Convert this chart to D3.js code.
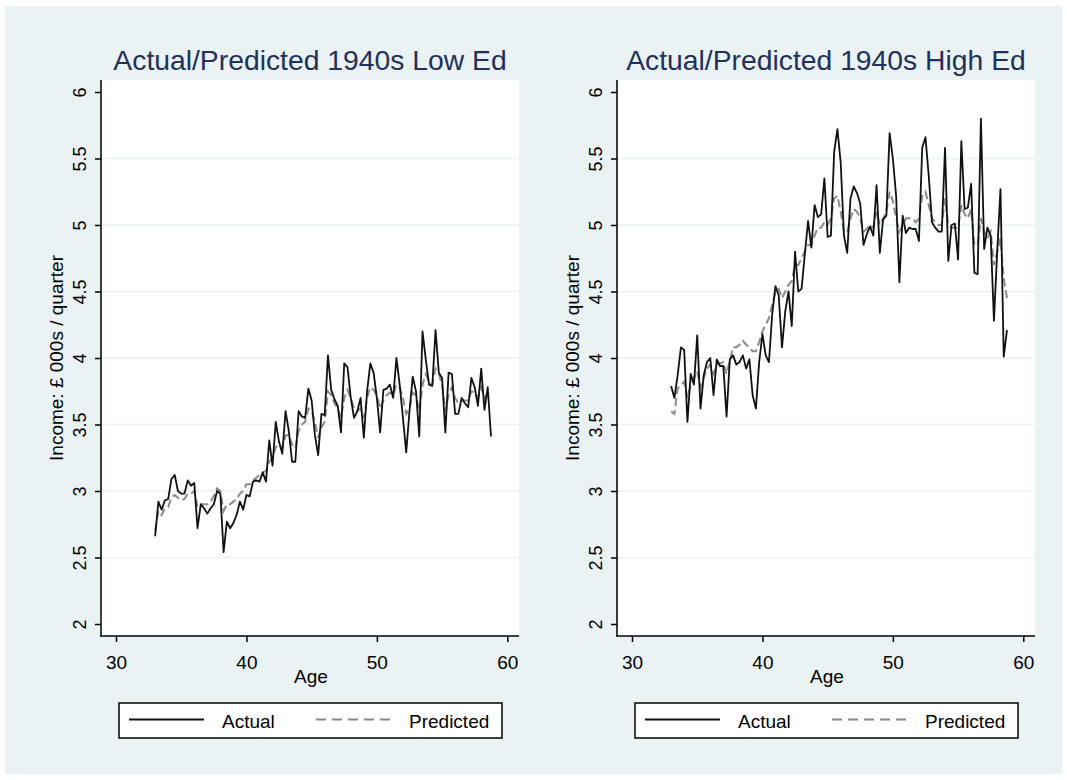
<!DOCTYPE html>
<html>
<head>
<meta charset="utf-8">
<script src="https://cdn.jsdelivr.net/npm/d3@7"></script>
<style>
  body { margin: 0; background: #fff; }
  svg text { font-family: "Liberation Sans", Arial, sans-serif; }
</style>
</head>
<body>
<svg id="chart" width="1067" height="780"></svg>
<script>
// quarterly ages 33.00 .. 58.75
var ages = d3.range(104).map(function (i) { return 33 + i * 0.25; });

var lowActual = [
  2.66, 2.92, 2.86, 2.93, 2.94, 3.09, 3.12, 3.0, 2.98, 2.98,
  3.08, 3.04, 3.06, 2.72, 2.9, 2.87, 2.83, 2.87, 2.9, 3.0,
  2.98, 2.54, 2.77, 2.72, 2.76, 2.82, 2.92, 2.86, 2.97, 2.96,
  3.07, 3.08, 3.07, 3.14, 3.07, 3.38, 3.19, 3.52, 3.37, 3.28,
  3.6, 3.45, 3.22, 3.22, 3.6, 3.56, 3.55, 3.77, 3.68, 3.42,
  3.27, 3.58, 3.57, 4.02, 3.76, 3.69, 3.64, 3.44, 3.96, 3.93,
  3.7, 3.55, 3.6, 3.7, 3.4, 3.75, 3.96, 3.89, 3.7, 3.44,
  3.76, 3.77, 3.8, 3.7, 4.0, 3.8, 3.55, 3.29, 3.6, 3.86,
  3.75, 3.41, 4.2, 3.99, 3.8, 3.79, 4.21, 3.89, 3.85, 3.44,
  3.89, 3.88, 3.58, 3.58, 3.7, 3.66, 3.63, 3.85, 3.78, 3.64,
  3.92, 3.61, 3.78, 3.41
];
var lowPredicted = [
  2.7, 2.85, 2.82, 2.87, 2.88, 2.95, 2.97, 2.95, 2.93, 2.94,
  2.98, 2.98, 3.0, 2.88, 2.9, 2.9, 2.9, 2.92, 2.96, 3.02,
  3.0, 2.85, 2.9, 2.9, 2.92, 2.94, 2.98, 3.0, 3.05, 3.05,
  3.08, 3.1, 3.12, 3.14, 3.15, 3.22, 3.25, 3.33, 3.35, 3.32,
  3.42, 3.42, 3.35, 3.32, 3.45, 3.5, 3.52, 3.62, 3.6, 3.52,
  3.4, 3.48, 3.52, 3.75, 3.72, 3.66, 3.62, 3.55, 3.7, 3.76,
  3.7, 3.62, 3.6, 3.62, 3.55, 3.7, 3.78, 3.76, 3.72, 3.62,
  3.68, 3.72, 3.74, 3.72, 3.8, 3.78, 3.7, 3.58, 3.62, 3.74,
  3.72, 3.6, 3.8, 3.88, 3.82, 3.8, 3.92, 3.88, 3.8, 3.6,
  3.72, 3.78, 3.7, 3.66, 3.68, 3.68, 3.68, 3.75, 3.74, 3.7,
  3.78, 3.7, 3.74, 3.72
];
var highActual = [
  3.79, 3.70, 3.87, 4.08, 4.06, 3.52, 3.88, 3.80, 4.17, 3.62,
  3.87, 3.97, 4.0, 3.72, 3.99, 3.94, 3.94, 3.56, 3.99, 4.02,
  3.95, 3.97, 4.02, 3.92, 3.99, 3.72, 3.62, 3.97, 4.18, 4.02,
  3.97, 4.33, 4.54, 4.47, 4.08, 4.35, 4.5, 4.24, 4.8, 4.5,
  4.52, 4.78, 5.03, 4.83, 5.15, 5.06, 5.08, 5.35, 4.91, 4.92,
  5.55, 5.72, 5.47, 4.92, 4.79, 5.2, 5.29, 5.24, 5.16, 4.85,
  4.93, 4.99, 4.92, 5.3, 4.79, 5.04, 5.07, 5.69, 5.5, 5.22,
  4.57, 5.07, 4.94, 4.98, 4.97, 4.97, 4.88, 5.58, 5.66, 5.37,
  5.02, 4.98, 4.95, 4.95, 5.58, 4.73, 5.0, 5.01, 4.74, 5.63,
  5.12, 5.13, 5.31, 4.64, 4.63, 5.8, 4.82, 4.98, 4.92, 4.28,
  4.8, 5.27, 4.01, 4.21
];
var highPredicted = [
  3.6, 3.58, 3.77, 3.8, 3.82, 3.7, 3.8, 3.85, 3.9, 3.78,
  3.85, 3.92, 3.95, 3.88, 3.95, 3.96, 3.97, 3.88, 3.98, 4.08,
  4.08, 4.1, 4.13, 4.1, 4.08, 4.05, 4.05, 4.12, 4.2, 4.25,
  4.3, 4.4, 4.5, 4.52, 4.45, 4.5, 4.55, 4.58, 4.7, 4.7,
  4.75, 4.8, 4.85, 4.85, 4.92, 4.98, 4.98, 5.02, 5.0, 5.05,
  5.2, 5.22, 5.1, 4.95, 4.95, 5.05, 5.12, 5.1, 5.05, 4.95,
  4.97, 5.0, 4.98, 5.1, 5.0, 5.05, 5.1, 5.25, 5.18, 5.05,
  4.95, 5.0, 5.05, 5.05, 5.05, 5.02, 5.05, 5.22, 5.25, 5.15,
  5.05, 5.02, 5.0, 5.0, 5.2, 5.0, 4.98, 4.98, 4.98, 5.15,
  5.08, 5.05, 5.12, 4.85, 4.85, 5.05, 4.95, 4.9, 4.95, 4.7,
  4.8, 4.9, 4.6, 4.45
];

var yTicks = [2, 2.5, 3, 3.5, 4, 4.5, 5, 5.5, 6];
var xTicks = [30, 40, 50, 60];
var titles = ["Actual/Predicted 1940s Low Ed", "Actual/Predicted 1940s High Ed"];
var legendLabels = ["Actual", "Predicted"];

var svg = d3.select("#chart");

// graph region background
svg.append("rect")
  .attr("x", 5).attr("y", 6)
  .attr("width", 1057).attr("height", 768)
  .attr("fill", "#eaf2f3");

drawPanel(0, titles[0], lowActual, lowPredicted);
drawPanel(516, titles[1], highActual, highPredicted);

function drawPanel(dx, title, actual, predicted) {
  var g = svg.append("g").attr("transform", "translate(" + dx + ",0)");
  var left = 101, right = 519, top = 80, bottom = 636;

  var x = d3.scaleLinear().domain([30, 60]).range([116, 507.3]);
  var y = d3.scaleLinear().domain([2, 6]).range([624, 92]);

  // plot region
  g.append("rect")
    .attr("x", left).attr("y", top)
    .attr("width", right - left).attr("height", bottom - top)
    .attr("fill", "#fff");

  // grid lines (Stata leaves out min and max)
  g.append("g")
    .selectAll("line")
    .data(yTicks.slice(1, -1))
    .join("line")
    .attr("x1", left).attr("x2", right)
    .attr("y1", function (d) { return y(d); })
    .attr("y2", function (d) { return y(d); })
    .attr("stroke", "#eaf2f3")
    .attr("stroke-width", 1.5);

  // title
  g.append("text")
    .attr("x", (left + right) / 2)
    .attr("y", 70)
    .attr("text-anchor", "middle")
    .attr("font-size", "28.3px")
    .attr("fill", "#22305b")
    .text(title);

  // y axis
  var yAxis = g.append("g")
    .attr("transform", "translate(" + left + ",0)")
    .call(d3.axisLeft(y).tickValues(yTicks).tickSize(6).tickSizeOuter(0).tickFormat(d3.format("")));
  yAxis.select(".domain").remove();
  yAxis.selectAll(".tick line").attr("stroke", "#000").attr("stroke-width", 1.5);
  yAxis.selectAll(".tick text")
    .attr("x", null).attr("dy", null)
    .attr("transform", "translate(-15,0) rotate(-90)")
    .attr("text-anchor", "middle")
    .attr("font-size", "18px")
    .attr("fill", "#000");
  g.append("line")
    .attr("x1", left).attr("x2", left)
    .attr("y1", top).attr("y2", bottom + 0.75)
    .attr("stroke", "#000").attr("stroke-width", 1.5);

  // x axis
  var xAxis = g.append("g")
    .attr("transform", "translate(0," + bottom + ")")
    .call(d3.axisBottom(x).tickValues(xTicks).tickSize(6).tickSizeOuter(0));
  xAxis.select(".domain").remove();
  xAxis.selectAll(".tick line").attr("stroke", "#000").attr("stroke-width", 1.5);
  xAxis.selectAll(".tick text")
    .attr("y", 33).attr("dy", null)
    .attr("font-size", "19px")
    .attr("fill", "#000");
  g.append("line")
    .attr("x1", left - 0.75).attr("x2", right)
    .attr("y1", bottom).attr("y2", bottom)
    .attr("stroke", "#000").attr("stroke-width", 1.5);

  // axis titles
  g.append("text")
    .attr("x", (left + right) / 2 + 1)
    .attr("y", 683)
    .attr("text-anchor", "middle")
    .attr("font-size", "19px")
    .text("Age");
  g.append("text")
    .attr("transform", "translate(63," + ((top + bottom) / 2) + ") rotate(-90)")
    .attr("text-anchor", "middle")
    .attr("font-size", "19px")
    .text("Income: £ 000s / quarter");

  var line = d3.line()
    .x(function (d) { return x(d[0]); })
    .y(function (d) { return y(d[1]); });

  g.append("path")
    .datum(d3.zip(ages, predicted))
    .attr("d", line)
    .attr("fill", "none")
    .attr("stroke", "#8a8a8a")
    .attr("stroke-width", 2)
    .attr("stroke-dasharray", "8,4");

  g.append("path")
    .datum(d3.zip(ages, actual))
    .attr("d", line)
    .attr("fill", "none")
    .attr("stroke", "#111")
    .attr("stroke-width", 1.8)
    .attr("stroke-linejoin", "round");

  // legend
  var lg = g.append("g");
  lg.append("rect")
    .attr("x", 119).attr("y", 703)
    .attr("width", 383).attr("height", 35)
    .attr("fill", "#fff")
    .attr("stroke", "#000").attr("stroke-width", 1.5);
  lg.append("line")
    .attr("x1", 129).attr("x2", 204)
    .attr("y1", 719.5).attr("y2", 719.5)
    .attr("stroke", "#111").attr("stroke-width", 1.8);
  lg.append("text")
    .attr("x", 222).attr("y", 728)
    .attr("font-size", "19px")
    .text(legendLabels[0]);
  lg.append("line")
    .attr("x1", 316).attr("x2", 390)
    .attr("y1", 719.5).attr("y2", 719.5)
    .attr("stroke", "#8a8a8a").attr("stroke-width", 2)
    .attr("stroke-dasharray", "10,6");
  lg.append("text")
    .attr("x", 409).attr("y", 728)
    .attr("font-size", "19px")
    .text(legendLabels[1]);
}
</script>
</body>
</html>
